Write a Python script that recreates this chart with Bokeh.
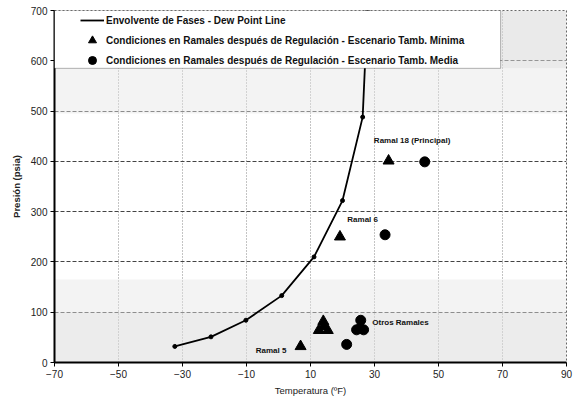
from bokeh.plotting import figure
from bokeh.models import Range1d, Legend, LegendItem, BoxAnnotation, FixedTicker
from bokeh.core.properties import value
from bokeh.embed import file_html
from bokeh.resources import INLINE

# ---- data ----
x_ticks = [-70, -50, -30, -10, 10, 30, 50, 70, 90]
y_ticks = [0, 100, 200, 300, 400, 500, 600, 700]

dew_t = [-32.4, -21.1, -10.2, 1.0, 11.1, 20.0, 26.3, 27.8]
dew_p = [32, 51, 84, 133, 210, 322, 488, 700]

min_t = [34.4, 19.2, 12.6, 14.0, 15.4, 14.0, 6.9]
min_p = [401, 250, 64, 82, 64, 72, 32]

med_t = [45.7, 33.3, 25.7, 24.4, 26.6, 25.5, 21.3]
med_p = [399, 254, 84, 65, 65, 68, 36]

label_text = ["Ramal 18 (Principal)", "Ramal 6", "Otros Ramales", "Ramal 5"]
label_t = [29.8, 21.5, 29.3, -7.1]
label_p = [441, 285, 79, 23]

series_names = [
    "Envolvente de Fases - Dew Point Line",
    "Condiciones en Ramales después de Regulación - Escenario Tamb. Mínima",
    "Condiciones en Ramales después de Regulación - Escenario Tamb. Media",
]

FONT = "Liberation Sans"

p = figure(width=579, height=398, output_backend="svg", toolbar_location=None,
           x_range=Range1d(-70, 90), y_range=Range1d(0, 700),
           min_border_left=54, min_border_right=13, min_border_top=10, min_border_bottom=35)

p.background_fill_color = "white"
p.border_fill_color = "white"
p.outline_line_color = "#555555"
p.outline_line_dash = "2 2"
p.outline_line_width = 1

# scanned halftone shading bands
p.add_layout(BoxAnnotation(bottom=0, top=100, fill_color="#dcdcdc", fill_alpha=0.55,
                           line_alpha=0, level="underlay"))
p.add_layout(BoxAnnotation(bottom=100, top=165, fill_color="#e4e4e4", fill_alpha=0.45,
                           line_alpha=0, level="underlay"))
p.add_layout(BoxAnnotation(bottom=495, top=585, fill_color="#e4e4e4", fill_alpha=0.45,
                           line_alpha=0, level="underlay"))
p.add_layout(BoxAnnotation(left=69.4, bottom=585, fill_color="#d8d8d8", fill_alpha=0.55,
                           line_alpha=0, level="underlay"))

# grid
p.ygrid.grid_line_color = "#444444"
p.ygrid.grid_line_dash = "4 2"
p.ygrid.grid_line_width = 1
p.xgrid.grid_line_color = "#888888"
p.xgrid.grid_line_dash = "1 2"
p.xgrid.grid_line_width = 1

# axes
p.xaxis.ticker = FixedTicker(ticks=x_ticks)
p.yaxis.ticker = FixedTicker(ticks=y_ticks)
for ax in (p.xaxis[0], p.yaxis[0]):
    ax.axis_line_width = 2
    ax.axis_line_color = "black"
    ax.major_tick_line_color = "black"
    ax.major_tick_out = 4
    ax.major_tick_in = 0
    ax.minor_tick_line_color = None
    ax.major_label_text_font = FONT
    ax.major_label_text_font_size = "10px"
    ax.major_label_text_color = "#222222"
    ax.axis_label_text_font = FONT
    ax.axis_label_text_font_style = "bold"
    ax.axis_label_text_color = "#222222"
p.xaxis.major_label_standoff = 3
p.yaxis.major_label_standoff = 3
p.xaxis.axis_label = "Temperatura (ºF)"
p.yaxis.axis_label = "Presión (psia)"
p.xaxis.axis_label_text_font_size = "9.5px"
p.yaxis.axis_label_text_font_size = "9.5px"
p.xaxis.axis_label_standoff = 4
p.yaxis.axis_label_standoff = 6
p.xaxis.axis_label_text_font_style = "normal"

# series
line_r = p.line(dew_t, dew_p, line_color="black", line_width=1.8)
dot_r = p.scatter(dew_t, dew_p, marker="circle", size=4, fill_color="black", line_color="black")
tri_r = p.scatter(min_t, min_p, marker="triangle", size=11, fill_color="black", line_color="black")
circ_r = p.scatter(med_t, med_p, marker="circle", size=10, fill_color="black", line_color="black")

p.text(label_t, label_p, text=label_text, text_font=value(FONT), text_font_size="8px",
       text_font_style="bold", text_baseline="middle", text_align="left", text_color="#111111")

# legend frame (covers the upper-left corner)
p.add_layout(BoxAnnotation(right=69.4, bottom=585, fill_color="white", fill_alpha=1,
                           line_color="black", line_width=1))

legend = Legend(items=[
    LegendItem(label=series_names[0], renderers=[line_r]),
    LegendItem(label=series_names[1], renderers=[tri_r]),
    LegendItem(label=series_names[2], renderers=[circ_r]),
], location=(26, 292), padding=0, spacing=0, margin=0,
    glyph_width=24, glyph_height=20, label_height=20, label_standoff=2,
    label_text_font=FONT, label_text_font_size="10px", label_text_font_style="bold",
    label_text_color="#111111", background_fill_alpha=0, border_line_alpha=0)
p.add_layout(legend)

open("out.html", "w").write(file_html(p, INLINE))
